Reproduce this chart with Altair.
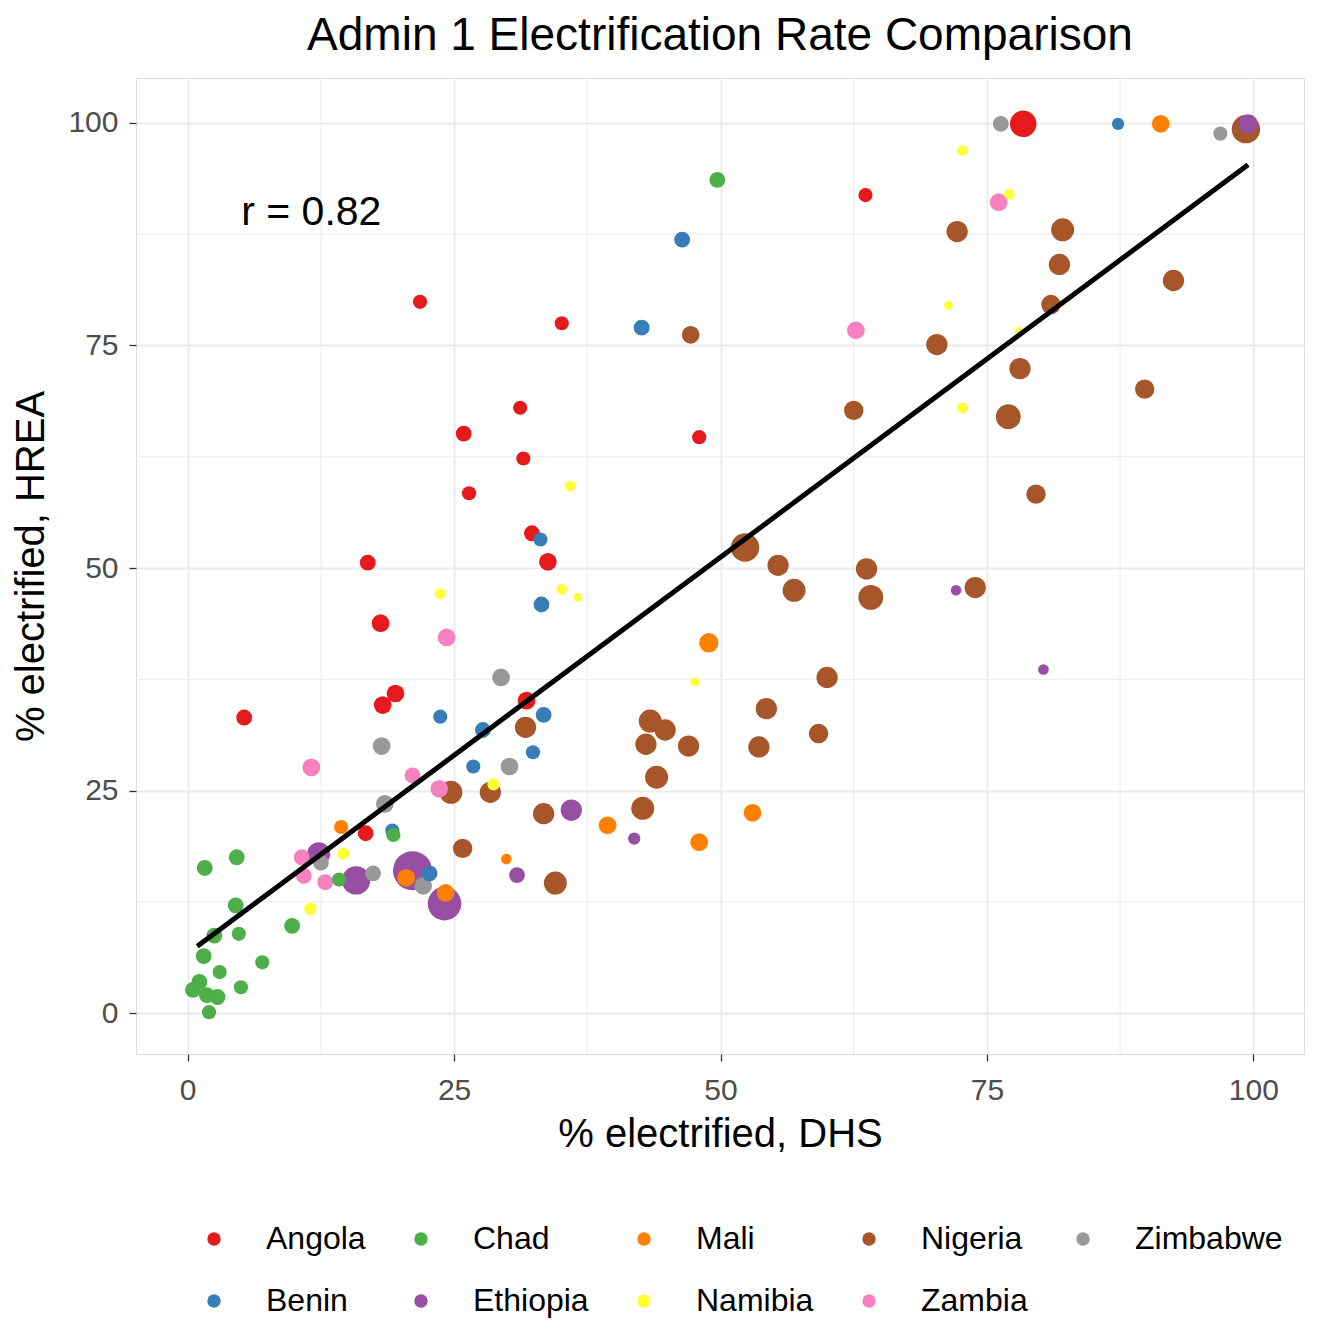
import altair as alt
import pandas as pd

# ---- data (DHS %, HREA %, relative population) ----
angola_x = [5.3, 21.8, 35.1, 63.6, 78.4, 25.9, 31.2, 31.5, 26.4, 32.3, 33.8, 16.9, 18.1, 48.0, 19.5, 18.3, 31.8, 16.7]
angola_y = [33.2, 79.9, 77.5, 91.9, 99.9, 65.1, 68.0, 62.3, 58.4, 53.9, 50.7, 50.6, 43.8, 64.7, 35.9, 34.6, 35.1, 20.2]
angola_p = [2.0, 1.6, 1.6, 1.6, 5.6, 2.0, 1.6, 1.6, 1.6, 2.0, 2.5, 2.0, 2.5, 1.6, 2.5, 2.5, 2.5, 2.0]

benin_x = [87.3, 46.4, 42.6, 33.1, 33.2, 23.7, 27.7, 33.4, 26.8, 32.4, 19.2, 22.7]
benin_y = [99.9, 86.9, 77.0, 53.2, 45.9, 33.3, 31.8, 33.5, 27.7, 29.3, 20.5, 15.7]
benin_p = [1.2, 2.0, 2.0, 1.6, 2.0, 1.6, 2.0, 2.0, 1.6, 1.6, 1.6, 2.0]

chad_x = [49.7, 19.3, 1.6, 4.6, 4.5, 4.8, 2.5, 1.5, 3.0, 1.1, 0.5, 2.8, 2.0, 5.0, 7.0, 9.8, 14.2, 1.8]
chad_y = [93.6, 20.0, 16.3, 17.5, 12.1, 8.9, 8.7, 6.4, 4.6, 3.5, 2.6, 1.8, 0.1, 2.9, 5.7, 9.8, 15.0, 2.0]
chad_p = [2.0, 1.6, 2.0, 2.0, 2.0, 1.6, 2.0, 2.0, 1.6, 2.0, 2.0, 2.0, 1.6, 1.6, 1.6, 2.0, 1.6, 2.0]

ethiopia_x = [99.5, 72.1, 80.3, 36.0, 41.9, 30.9, 15.8, 21.1, 24.1, 12.3]
ethiopia_y = [99.9, 47.5, 38.6, 22.8, 19.6, 15.5, 14.9, 16.0, 12.3, 17.9]
ethiopia_p = [3.0, 0.9, 0.9, 3.6, 1.2, 2.0, 6.4, 12.1, 9.0, 4.2]

mali_x = [91.3, 48.9, 39.4, 48.0, 53.0, 29.9, 14.4, 20.5, 24.2]
mali_y = [99.9, 41.6, 21.1, 19.2, 22.5, 17.3, 20.9, 15.2, 13.5]
mali_p = [2.5, 3.0, 2.5, 2.5, 2.5, 0.9, 1.6, 2.5, 2.5]

namibia_x = [72.7, 77.1, 71.4, 78.0, 72.7, 35.9, 35.1, 36.6, 23.7, 47.6, 28.7, 14.6, 11.5]
namibia_y = [96.9, 92.0, 79.5, 76.6, 68.0, 59.2, 47.6, 46.7, 47.1, 37.2, 25.7, 17.9, 11.7]
namibia_p = [0.9, 0.9, 0.6, 0.6, 0.9, 0.9, 0.9, 0.6, 0.9, 0.6, 1.2, 1.2, 1.2]

nigeria_x = [99.3, 72.2, 82.1, 81.8, 92.5, 81.0, 47.2, 70.3, 78.1, 89.8, 62.5, 77.0, 79.6, 52.3,
             55.4, 56.9, 63.7, 64.1, 73.9, 60.0, 54.3, 59.2, 53.6, 43.4, 44.8, 43.0, 47.0, 44.0,
             42.7, 33.4, 34.5, 31.7, 28.4, 24.7, 25.8]
nigeria_y = [99.3, 87.8, 88.0, 84.1, 82.3, 79.6, 76.2, 75.1, 72.4, 70.1, 67.7, 67.0, 58.3, 52.3,
             50.3, 47.5, 49.9, 46.7, 47.8, 37.7, 34.2, 31.4, 29.9, 32.8, 31.8, 30.2, 30.0, 26.5,
             23.0, 22.4, 14.6, 32.1, 24.8, 24.8, 18.5]
nigeria_p = [6.4, 3.6, 4.2, 3.6, 3.6, 3.0, 2.5, 3.6, 3.6, 3.0, 3.0, 4.9, 3.0, 6.4,
             3.6, 4.2, 3.6, 4.9, 3.6, 3.6, 3.6, 3.0, 3.6, 4.2, 3.6, 3.6, 3.6, 4.2,
             4.2, 3.6, 4.2, 3.6, 3.6, 4.2, 3.0]

zambia_x = [76.1, 62.7, 24.3, 11.6, 21.1, 23.6, 10.7, 10.9, 12.9]
zambia_y = [91.1, 76.7, 42.2, 27.6, 26.7, 25.2, 17.5, 15.4, 14.7]
zambia_p = [2.5, 2.5, 2.5, 2.5, 2.0, 2.5, 2.0, 2.0, 2.0]

zimbabwe_x = [76.3, 96.9, 29.4, 18.2, 30.2, 18.5, 12.5, 17.4, 22.1]
zimbabwe_y = [99.9, 98.8, 37.7, 30.0, 27.7, 23.5, 16.9, 15.7, 14.3]
zimbabwe_p = [2.0, 1.6, 2.5, 2.5, 2.5, 2.5, 2.0, 2.0, 2.5]

# legend order (row-major, 5 columns) and Set1-style colours
countries = ["Angola", "Chad", "Mali", "Nigeria", "Zimbabwe", "Benin", "Ethiopia", "Namibia", "Zambia"]
colors = ["#E41A1C", "#4DAF4A", "#FF7F00", "#A65628", "#999999", "#377EB8", "#984EA3", "#FFFF33", "#F781BF"]

# fitted line endpoints
fit_x = [0.9, 99.5]
fit_y = [7.5, 95.3]

tick_vals = [0, 25, 50, 75, 100]
minor_vals = [12.5, 37.5, 62.5, 87.5]

# ---- build table ----
series = {
    "Angola": (angola_x, angola_y, angola_p),
    "Benin": (benin_x, benin_y, benin_p),
    "Chad": (chad_x, chad_y, chad_p),
    "Ethiopia": (ethiopia_x, ethiopia_y, ethiopia_p),
    "Mali": (mali_x, mali_y, mali_p),
    "Namibia": (namibia_x, namibia_y, namibia_p),
    "Nigeria": (nigeria_x, nigeria_y, nigeria_p),
    "Zambia": (zambia_x, zambia_y, zambia_p),
    "Zimbabwe": (zimbabwe_x, zimbabwe_y, zimbabwe_p),
}
rows = []
for c, (xs, ys, ps) in series.items():
    for xv, yv, pv in zip(xs, ys, ps):
        rows.append({"country": c, "dhs": xv, "hrea": yv, "pop": pv})
df = pd.DataFrame(rows)

fit_df = pd.DataFrame({"dhs": fit_x, "hrea": fit_y})
minor_df = pd.DataFrame({"v": minor_vals})
label_df = pd.DataFrame({"dhs": [11.6], "hrea": [89.9], "txt": ["r = 0.82"]})

FONT = "Liberation Sans"
xscale = alt.Scale(domain=[-4.85, 104.75], nice=False, zero=False)
yscale = alt.Scale(domain=[-4.6, 105.05], nice=False, zero=False)

xaxis = alt.Axis(values=tick_vals, grid=True, gridColor="#EBEBEB", gridWidth=2,
                 domain=False, tickColor="#333333", tickWidth=1.3, tickSize=7,
                 labelFontSize=30, labelColor="#4D4D4D", labelPadding=14, labelFont=FONT,
                 titleFontSize=40, titleFontWeight="normal", titleColor="#000000",
                 titlePadding=9, titleFont=FONT)
yaxis = alt.Axis(values=tick_vals, grid=True, gridColor="#EBEBEB", gridWidth=2,
                 domain=False, tickColor="#333333", tickWidth=1.3, tickSize=7,
                 labelFontSize=30, labelColor="#4D4D4D", labelPadding=11, labelFont=FONT,
                 titleFontSize=40, titleFontWeight="normal", titleColor="#000000",
                 titlePadding=16, titleFont=FONT)

XT = "% electrified, DHS"
YT = "% electrified, HREA"

vgrid = alt.Chart(minor_df).mark_rule(color="#EBEBEB", strokeWidth=1).encode(
    x=alt.X("v:Q", scale=xscale, axis=xaxis, title=XT)
)
hgrid = alt.Chart(minor_df).mark_rule(color="#EBEBEB", strokeWidth=1).encode(
    y=alt.Y("v:Q", scale=yscale, axis=yaxis, title=YT)
)

points = alt.Chart(df).mark_circle(opacity=1, strokeWidth=0).encode(
    x=alt.X("dhs:Q", scale=xscale, axis=xaxis, title=XT),
    y=alt.Y("hrea:Q", scale=yscale, axis=yaxis, title=YT),
    color=alt.Color("country:N",
                    scale=alt.Scale(domain=countries, range=colors),
                    legend=alt.Legend(title=None, orient="none", legendX=62, legendY=1145,
                                      direction="horizontal", columns=5,
                                      symbolType="circle", symbolSize=180, symbolStrokeWidth=0,
                                      symbolOpacity=1,
                                      labelFontSize=32, labelFont=FONT, labelColor="#000000",
                                      labelOffset=36, columnPadding=39, rowPadding=30,
                                      padding=0)),
    size=alt.Size("pop:Q", scale=alt.Scale(domain=[0, 12.1], range=[0, 1520], zero=True),
                  legend=None),
    order=alt.Order("pop:Q", sort="descending"),
)

fit = alt.Chart(fit_df).mark_line(color="#000000", strokeWidth=5).encode(
    x=alt.X("dhs:Q", scale=xscale, axis=xaxis, title=XT),
    y=alt.Y("hrea:Q", scale=yscale, axis=yaxis, title=YT),
)

rtext = alt.Chart(label_df).mark_text(fontSize=41, font=FONT, color="#000000",
                                      align="center", baseline="middle").encode(
    x=alt.X("dhs:Q", scale=xscale, axis=xaxis, title=XT),
    y=alt.Y("hrea:Q", scale=yscale, axis=yaxis, title=YT),
    text="txt:N",
)

chart = alt.layer(vgrid, hgrid, points, fit, rtext).properties(
    width=1168,
    height=976,
    title=alt.TitleParams("Admin 1 Electrification Rate Comparison", fontSize=46,
                          font=FONT, fontWeight="normal", color="#000000",
                          anchor="middle", frame="group", offset=18),
    autosize=alt.AutoSizeParams(type="none"),
    padding={"left": 128, "top": 70, "right": 6, "bottom": 266},
).configure_view(
    stroke="#333333", strokeWidth=1.3
).configure(font=FONT)

chart.save("out.html", embed_options={"renderer": "svg", "actions": False})
